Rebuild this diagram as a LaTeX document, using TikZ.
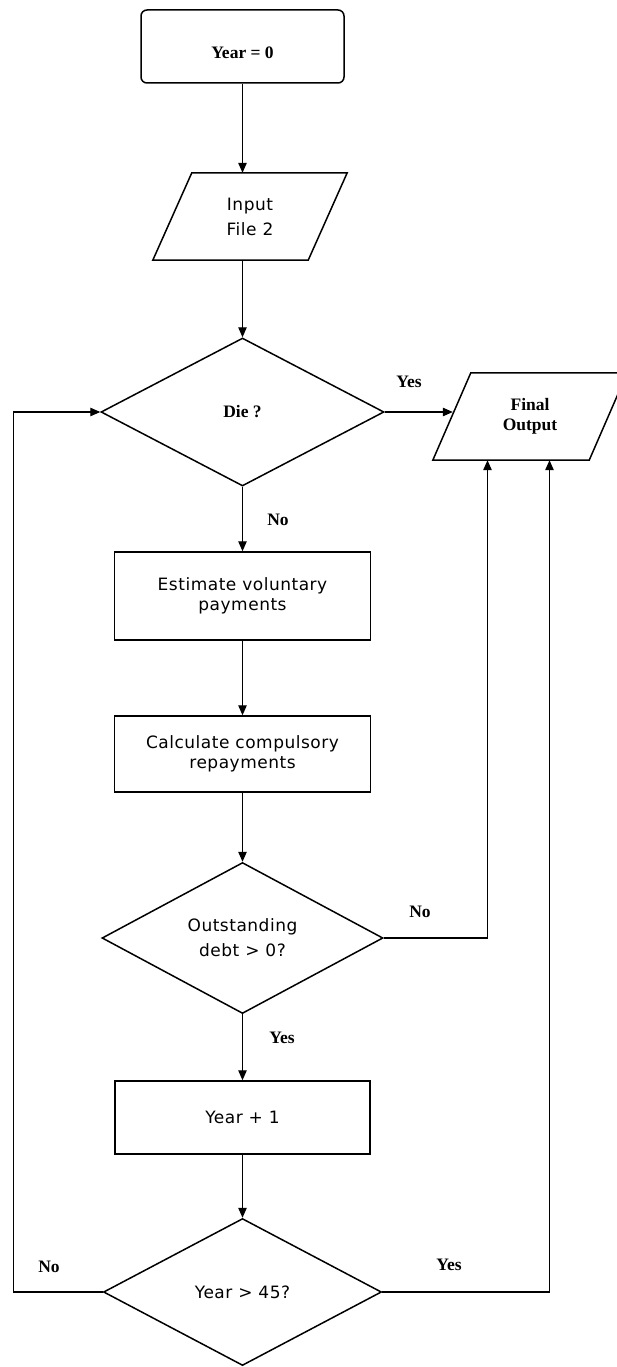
\documentclass[tikz,border=0pt]{standalone}
\usepackage{fontspec}
\setmainfont{Liberation Serif}
\newfontfamily\sansf[LetterSpace=3]{DejaVu Sans}
\usetikzlibrary{shapes.geometric,arrows.meta}
\begin{document}
\begin{tikzpicture}[x=1pt,y=-1pt,
  shp/.style={draw=black,line width=1.5pt,inner sep=0pt,fill=white},
  shpline/.style={draw=black,line width=1.5pt,line join=miter},
  sansfont/.style={font=\sansf\fontsize{17}{20}\selectfont},
  seriffont/.style={font=\bfseries\fontsize{17.5}{20}\selectfont},
  boxn/.style={shp,rectangle,sansfont,align=center},
  decn/.style={shp,diamond,aspect=1.9,align=center},
  paran/.style={rectangle,inner sep=0pt,minimum width=194pt,minimum height=87pt,align=center},
  conn/.style={line width=1.1pt,draw=black},
  arr/.style={conn,-{Triangle[length=10pt,width=8.5pt]}},
  lbl/.style={seriffont,inner sep=0pt}
]
\useasboundingbox (0,0) rectangle (616,1367);
\fill[white] (0,0) rectangle (616,1367);

% nodes
\node[shp,rectangle,rounded corners=6pt,minimum width=203pt,minimum height=73pt] (y0) at (242.5,46.5) {};
\node[lbl] (y0t) at ([yshift=-6pt]y0.center) {Year = 0};

\node[paran,font=\sansf\fontsize{17}{25}\selectfont] (in) at (250,216.5) {Input\\File 2};
\draw[shpline] ([xshift=39pt]in.north west) -- (in.north east) -- ([xshift=-39pt]in.south east) -- (in.south west) -- cycle;

\node[decn,minimum width=283pt,minimum height=148pt,seriffont] (die) at (242.5,412) {Die ?};

\node[paran,seriffont] (fo) at (530,416.5) {Final\\Output};
\draw[shpline] ([xshift=38pt]fo.north west) -- (fo.north east) -- ([xshift=-38pt]fo.south east) -- (fo.south west) -- cycle;

\node[boxn,minimum width=256pt,minimum height=88pt] (est) at (242.5,596) {Estimate voluntary\\payments};
\node[boxn,minimum width=256pt,minimum height=76pt] (calc) at (242.5,754) {Calculate compulsory\\repayments};
\node[decn,minimum width=281pt,minimum height=151pt,font=\sansf\fontsize{17}{25}\selectfont] (out) at (242.5,938) {Outstanding\\debt > 0?};
\node[boxn,minimum width=255pt,minimum height=73pt] (y1) at (242.5,1117.5) {Year + 1};
\node[decn,minimum width=278pt,minimum height=147pt,sansfont] (y45) at (242.5,1292) {Year > 45?};

% labels
\node[lbl] (l1) at (409,382) {Yes};
\node[lbl] (l2) at (278,520) {No};
\node[lbl] (l3) at (420,912) {No};
\node[lbl] (l4) at (282,1038) {Yes};
\node[lbl] (l5) at (49,1267) {No};
\node[lbl] (l6) at (449,1265) {Yes};

% free coordinates
\coordinate (lp) at (13.5,0);
\coordinate (foL) at ([xshift=20pt]fo.west);
\coordinate (foA) at ([xshift=-42.5pt]fo.south);
\coordinate (foB) at ([xshift=19.5pt]fo.south);

% connectors
\draw[arr] (y0.south) -- (y0.south |- in.north);
\draw[arr] (die.north |- in.south) -- (die.north);
\draw[arr] (die.east) -- (die.east -| foL);
\draw[arr] (die.south) -- (die.south |- est.north);
\draw[arr] (est.south) -- (calc.north);
\draw[arr] (calc.south) -- (out.north);
\draw[arr] (out.east) -| (foA);
\draw[arr] (out.south) -- (out.south |- y1.north);
\draw[arr] (y1.south) -- (y45.north);
\draw[arr] (y45.west) -- (y45.west -| lp) -- (lp |- die.west) -- (die.west);
\draw[arr] (y45.east) -| (foB);
\end{tikzpicture}
\end{document}
